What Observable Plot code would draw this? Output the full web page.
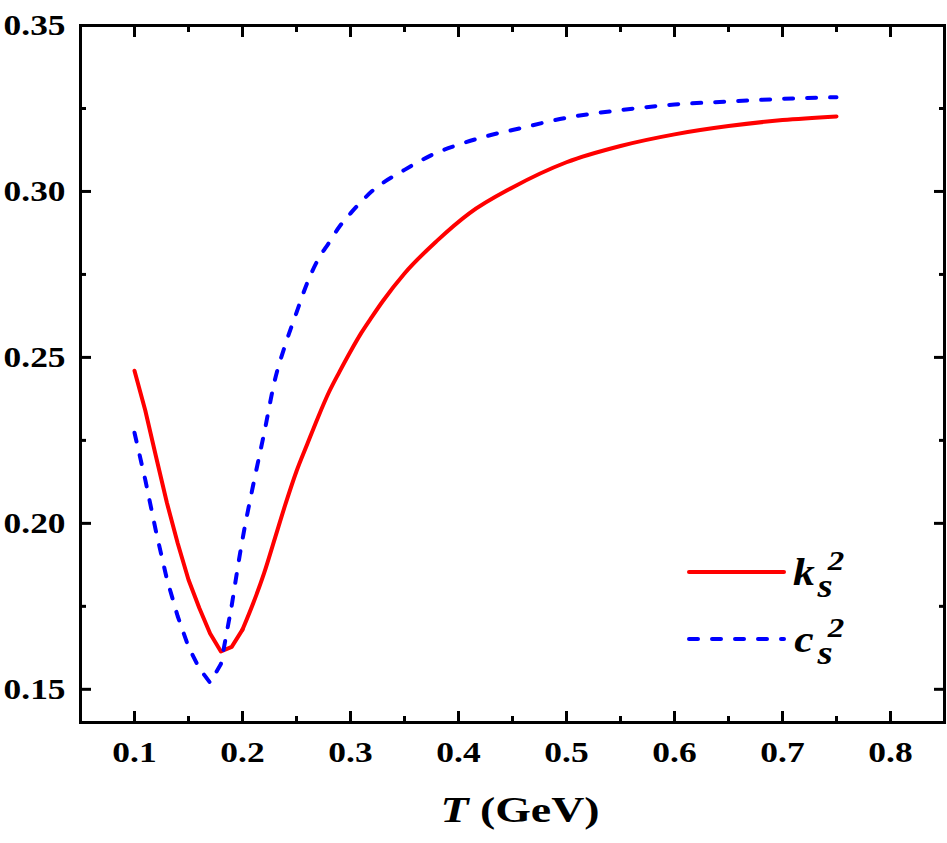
<!DOCTYPE html>
<html>
<head>
<meta charset="utf-8">
<script src="https://cdn.jsdelivr.net/npm/d3@7"></script>
<script src="https://cdn.jsdelivr.net/npm/@observablehq/plot@0.6"></script>
<style>
  html, body { margin: 0; padding: 0; background: #fff; }
  #chart svg { display: block; }
</style>
</head>
<body>
<div id="chart"></div>
<script>
// ---- data ----
const kT = [0.10,0.11,0.12,0.13,0.14,0.15,0.16,0.17,0.18,0.19,0.20,0.21,0.22,0.23,0.24,0.25,0.26,0.27,0.28,0.29,0.30,0.31,0.32,0.33,0.35,0.38,0.41,0.45,0.50,0.55,0.60,0.65,0.70,0.75];
const kV = [0.246,0.234,0.220,0.2062,0.194,0.183,0.1745,0.1668,0.1614,0.1628,0.168,0.176,0.185,0.1955,0.206,0.2157,0.2239,0.232,0.2395,0.2458,0.2518,0.2574,0.2623,0.267,0.2753,0.2851,0.2934,0.3012,0.3088,0.3137,0.3172,0.3197,0.3215,0.3226];

const cT = [0.10,0.11,0.12,0.13,0.14,0.15,0.16,0.17,0.18,0.19,0.20,0.21,0.22,0.23,0.24,0.25,0.26,0.27,0.28,0.29,0.30,0.32,0.35,0.38,0.40,0.43,0.45,0.50,0.55,0.60,0.65,0.70,0.75];
const cV = [0.2273,0.2131,0.1974,0.1832,0.172,0.1628,0.1563,0.152,0.1576,0.1752,0.1952,0.2117,0.2271,0.2432,0.2542,0.2635,0.2725,0.2795,0.2845,0.2895,0.2934,0.3001,0.3065,0.3117,0.3141,0.317,0.3185,0.3222,0.3245,0.3262,0.3271,0.3279,0.3284];

const xMajor = [0.1,0.2,0.3,0.4,0.5,0.6,0.7,0.8];
const xMinor = [0.15,0.25,0.35,0.45,0.55,0.65,0.75];
const yMajor = [0.15,0.20,0.25,0.30,0.35];
const yMinor = [0.175,0.225,0.275,0.325];

const legendBase = ["k","c"];
const legendColors = ["#ff0000","#0000ff"];
const legendDash = [null,"9,14"];

const xLabelMain = "T";
const xLabelUnit = " (GeV)";

// ---- tables ----
const ks = kT.map((t,i) => ({T: t, v: kV[i]}));
const cs = cT.map((t,i) => ({T: t, v: cV[i]}));
// sharp dip drawn with straight segments, smooth rise drawn with a monotone curve
const ksLow = ks.filter(d => d.T <= 0.20), ksHigh = ks.filter(d => d.T >= 0.20);
const csLow = cs.filter(d => d.T <= 0.19), csHigh = cs.filter(d => d.T >= 0.19);

const font = "'Liberation Serif', 'Times New Roman', Times, serif";
const tickOpts = {strokeWidth: 3, fill: "none", label: null};
const textOpts = {tickSize: 0, fontSize: 30, fontWeight: "bold", label: null};
const redOpts = {x: "T", y: "v", stroke: legendColors[0], strokeWidth: 4, strokeLinejoin: "round"};
const blueOpts = {x: "T", y: "v", stroke: legendColors[1], strokeWidth: 4, strokeDasharray: legendDash[1], strokeLinecap: "round"};

const chart = Plot.plot({
  width: 947,
  height: 843,
  marginLeft: 80,
  marginRight: 3,
  marginTop: 25,
  marginBottom: 121,
  style: {fontFamily: font, background: "#fff", color: "#000"},
  x: {domain: [0.05, 0.85]},
  y: {domain: [0.14, 0.35]},
  marks: [
    Plot.line(ksLow, {...redOpts, curve: "linear"}),
    Plot.line(ksHigh, {...redOpts, curve: "monotone-x"}),
    Plot.line(csLow, {...blueOpts, curve: "linear"}),
    Plot.line(csHigh, {...blueOpts, curve: "monotone-x"}),
    Plot.frame({stroke: "#000", strokeWidth: 3}),
    Plot.axisX(xMajor, {anchor: "bottom", tickSize: -11, ...tickOpts}),
    Plot.axisX(xMinor, {anchor: "bottom", tickSize: -6, ...tickOpts}),
    Plot.axisX(xMajor, {anchor: "top", tickSize: -11, ...tickOpts}),
    Plot.axisX(xMinor, {anchor: "top", tickSize: -6, ...tickOpts}),
    Plot.axisY(yMajor, {anchor: "left", tickSize: -11, ...tickOpts}),
    Plot.axisY(yMinor, {anchor: "left", tickSize: -6, ...tickOpts}),
    Plot.axisY(yMajor, {anchor: "right", tickSize: -11, ...tickOpts}),
    Plot.axisY(yMinor, {anchor: "right", tickSize: -6, ...tickOpts}),
    Plot.axisX(xMajor, {anchor: "bottom", tickPadding: 18, tickFormat: d3.format(".1f"), ...textOpts}),
    Plot.axisY(yMajor, {anchor: "left", tickPadding: 15, tickFormat: d3.format(".2f"), ...textOpts})
  ]
});

document.getElementById("chart").appendChild(chart);

const svg = d3.select(chart);

// x-axis title with italic T
const xl = svg.append("text")
  .attr("class", "xtitle")
  .attr("x", 520).attr("y", 822)
  .attr("text-anchor", "middle")
  .attr("font-family", font)
  .attr("font-size", 35)
  .attr("font-weight", "bold")
  .attr("fill", "#000");
xl.append("tspan").attr("font-style", "italic").text(xLabelMain);
xl.append("tspan").text(xLabelUnit);

// legend (inside frame, lower right)
const lg = svg.append("g").attr("class", "legend");
legendBase.forEach((b, i) => {
  const y = 572 + 67 * i;
  const ln = lg.append("line")
    .attr("x1", 689).attr("x2", 784).attr("y1", y).attr("y2", y)
    .attr("stroke", legendColors[i]).attr("stroke-width", 4)
    .attr("stroke-linecap", "round");
  if (legendDash[i]) ln.attr("stroke-dasharray", legendDash[i]);
  const common = t => t.attr("font-family", font).attr("font-weight", "bold")
    .attr("font-style", "italic").attr("fill", "#000");
  common(lg.append("text").attr("x", 804).attr("y", y + 13).attr("font-size", 37)).text(b);
  common(lg.append("text").attr("x", 825).attr("y", y + 25).attr("font-size", 33)).text("s");
  common(lg.append("text").attr("x", 836).attr("y", y - 2).attr("font-size", 28)).text("2");
});

// the reference's lettering is stretched horizontally
svg.selectAll("text").each(function() {
  const L = this.getComputedTextLength();
  if (L > 0) {
    const f = this.getAttribute("class") === "xtitle" ? 1.31 : 1.18;
    this.setAttribute("textLength", (L * f).toFixed(1));
    this.setAttribute("lengthAdjust", "spacingAndGlyphs");
  }
});
</script>
</body>
</html>
